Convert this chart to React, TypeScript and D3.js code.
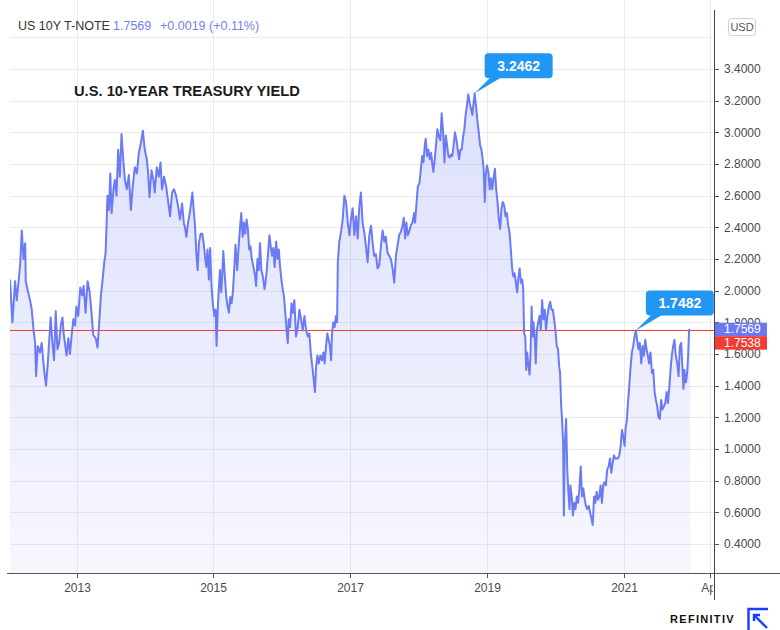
import * as d3 from 'd3';

// US 10Y T-Note yield
const yieldHistory: [string, number][] = [
  ['2012-01-12', 2.07], ['2012-01-25', 1.80], ['2012-02-08', 2.06], ['2012-02-17', 1.94], ['2012-02-26', 2.05],
  ['2012-03-06', 2.16], ['2012-03-15', 2.38], ['2012-03-24', 2.20], ['2012-04-02', 2.30], ['2012-04-05', 2.06],
  ['2012-04-16', 2.00], ['2012-04-28', 1.94], ['2012-05-07', 1.88], ['2012-05-16', 1.76], ['2012-05-25', 1.67],
  ['2012-05-30', 1.46], ['2012-06-08', 1.65], ['2012-06-20', 1.61], ['2012-06-29', 1.67], ['2012-07-08', 1.55],
  ['2012-07-13', 1.49], ['2012-07-22', 1.40], ['2012-07-31', 1.53], ['2012-08-09', 1.70], ['2012-08-16', 1.83],
  ['2012-08-25', 1.67], ['2012-09-03', 1.56], ['2012-09-12', 1.87], ['2012-09-21', 1.63], ['2012-09-30', 1.67],
  ['2012-10-09', 1.78], ['2012-10-18', 1.83], ['2012-10-25', 1.72], ['2012-10-31', 1.67], ['2012-11-09', 1.59],
  ['2012-11-18', 1.70], ['2012-11-27', 1.60], ['2012-12-06', 1.72], ['2012-12-15', 1.82], ['2012-12-24', 1.78],
  ['2012-12-31', 1.90],
  ['2013-01-10', 1.84], ['2013-01-21', 2.02], ['2013-02-01', 1.97], ['2013-02-08', 2.03], ['2013-02-18', 1.86],
  ['2013-03-01', 2.06], ['2013-03-12', 1.99], ['2013-03-22', 1.86], ['2013-03-31', 1.72], ['2013-04-13', 1.70],
  ['2013-04-23', 1.64], ['2013-05-02', 1.80], ['2013-05-11', 1.97], ['2013-05-20', 2.07], ['2013-05-29', 2.18],
  ['2013-06-05', 2.24], ['2013-06-10', 2.41], ['2013-06-15', 2.60], ['2013-06-23', 2.51], ['2013-06-30', 2.74],
  ['2013-07-07', 2.49], ['2013-07-17', 2.64], ['2013-07-24', 2.70], ['2013-08-02', 2.60], ['2013-08-11', 2.89],
  ['2013-08-20', 2.72], ['2013-08-29', 2.99], ['2013-09-07', 2.83], ['2013-09-16', 2.70], ['2013-09-26', 2.64],
  ['2013-10-07', 2.73], ['2013-10-18', 2.51], ['2013-10-28', 2.66], ['2013-11-08', 2.78], ['2013-11-19', 2.74],
  ['2013-11-29', 2.87], ['2013-12-10', 2.93], ['2013-12-21', 3.01], ['2013-12-31', 2.89],
  ['2014-01-11', 2.83], ['2014-01-18', 2.74], ['2014-01-25', 2.59], ['2014-02-05', 2.76], ['2014-02-15', 2.70],
  ['2014-02-22', 2.62], ['2014-03-05', 2.78], ['2014-03-16', 2.72], ['2014-03-25', 2.81], ['2014-04-02', 2.64],
  ['2014-04-13', 2.72], ['2014-04-24', 2.66], ['2014-05-04', 2.57], ['2014-05-15', 2.47], ['2014-05-26', 2.62],
  ['2014-06-05', 2.64], ['2014-06-16', 2.60], ['2014-06-27', 2.53], ['2014-07-07', 2.45], ['2014-07-18', 2.55],
  ['2014-07-28', 2.42], ['2014-08-01', 2.41], ['2014-08-10', 2.34], ['2014-08-19', 2.43], ['2014-08-28', 2.49],
  ['2014-09-06', 2.57], ['2014-09-11', 2.62], ['2014-09-18', 2.51], ['2014-09-25', 2.41], ['2014-10-02', 2.24],
  ['2014-10-09', 2.13], ['2014-10-16', 2.30], ['2014-10-25', 2.36], ['2014-11-03', 2.36], ['2014-11-10', 2.30],
  ['2014-11-17', 2.22], ['2014-11-24', 2.15], ['2014-12-01', 2.26], ['2014-12-08', 2.07], ['2014-12-15', 2.27],
  ['2014-12-22', 2.03], ['2014-12-29', 1.92],
  ['2015-01-06', 1.84], ['2015-01-13', 1.88], ['2015-01-18', 1.65], ['2015-01-25', 1.90], ['2015-01-31', 2.03],
  ['2015-02-05', 2.13], ['2015-02-12', 1.99], ['2015-02-17', 2.09], ['2015-02-23', 2.25], ['2015-03-02', 2.11],
  ['2015-03-11', 1.96], ['2015-03-18', 1.90], ['2015-03-25', 1.86], ['2015-04-01', 1.96], ['2015-04-08', 1.92],
  ['2015-04-15', 1.99], ['2015-04-24', 2.17], ['2015-04-29', 2.29], ['2015-05-08', 2.13], ['2015-05-17', 2.30],
  ['2015-05-24', 2.41], ['2015-05-30', 2.49], ['2015-06-06', 2.34], ['2015-06-13', 2.43], ['2015-06-20', 2.36],
  ['2015-06-27', 2.45], ['2015-07-04', 2.39], ['2015-07-11', 2.26], ['2015-07-18', 2.28], ['2015-07-25', 2.20],
  ['2015-08-03', 2.15], ['2015-08-12', 2.09], ['2015-08-17', 2.03], ['2015-08-24', 2.20], ['2015-08-31', 2.13],
  ['2015-09-07', 2.30], ['2015-09-14', 2.13], ['2015-09-22', 2.09], ['2015-10-01', 2.01], ['2015-10-06', 2.05],
  ['2015-10-13', 2.13], ['2015-10-20', 2.24], ['2015-10-27', 2.35], ['2015-11-03', 2.28], ['2015-11-10', 2.22],
  ['2015-11-17', 2.27], ['2015-11-24', 2.15], ['2015-12-02', 2.31], ['2015-12-09', 2.20], ['2015-12-16', 2.26],
  ['2015-12-23', 2.15], ['2015-12-30', 2.07],
  ['2016-01-06', 2.01], ['2016-01-13', 1.96], ['2016-01-21', 1.84], ['2016-01-28', 1.73], ['2016-02-02', 1.67],
  ['2016-02-07', 1.82], ['2016-02-14', 1.77], ['2016-02-22', 1.92], ['2016-02-29', 1.86], ['2016-03-08', 1.94],
  ['2016-03-17', 1.71], ['2016-03-26', 1.77], ['2016-04-04', 1.88], ['2016-04-13', 1.82], ['2016-04-22', 1.75],
  ['2016-05-01', 1.84], ['2016-05-10', 1.75], ['2016-05-19', 1.71], ['2016-05-27', 1.73], ['2016-06-05', 1.59],
  ['2016-06-14', 1.50], ['2016-06-19', 1.44], ['2016-06-26', 1.36], ['2016-07-02', 1.52], ['2016-07-09', 1.59],
  ['2016-07-16', 1.54], ['2016-07-25', 1.59], ['2016-08-03', 1.56], ['2016-08-10', 1.61], ['2016-08-17', 1.54],
  ['2016-08-24', 1.65], ['2016-08-31', 1.73], ['2016-09-07', 1.69], ['2016-09-14', 1.65], ['2016-09-20', 1.56],
  ['2016-09-25', 1.73], ['2016-10-02', 1.80], ['2016-10-09', 1.77], ['2016-10-16', 1.84], ['2016-10-22', 1.80],
  ['2016-10-26', 2.18], ['2016-11-03', 2.31], ['2016-11-12', 2.37], ['2016-11-21', 2.45], ['2016-11-30', 2.60],
  ['2016-12-09', 2.56], ['2016-12-18', 2.43], ['2016-12-27', 2.35],
  ['2017-01-04', 2.45], ['2017-01-13', 2.52], ['2017-01-22', 2.35], ['2017-01-31', 2.47], ['2017-02-09', 2.33],
  ['2017-02-17', 2.52], ['2017-02-26', 2.62], ['2017-03-07', 2.43], ['2017-03-16', 2.37], ['2017-03-25', 2.28],
  ['2017-04-03', 2.18], ['2017-04-12', 2.35], ['2017-04-21', 2.41], ['2017-04-29', 2.31], ['2017-05-08', 2.22],
  ['2017-05-17', 2.23], ['2017-05-26', 2.14], ['2017-06-04', 2.16], ['2017-06-13', 2.28], ['2017-06-22', 2.38],
  ['2017-07-01', 2.31], ['2017-07-09', 2.34], ['2017-07-18', 2.24], ['2017-07-27', 2.22], ['2017-08-05', 2.20],
  ['2017-08-14', 2.14], ['2017-08-23', 2.05], ['2017-09-01', 2.22], ['2017-09-09', 2.28], ['2017-09-18', 2.35],
  ['2017-09-27', 2.37], ['2017-10-06', 2.41], ['2017-10-13', 2.46], ['2017-10-20', 2.33], ['2017-10-27', 2.43],
  ['2017-11-03', 2.35], ['2017-11-10', 2.37], ['2017-11-19', 2.41], ['2017-11-28', 2.43], ['2017-12-07', 2.49],
  ['2017-12-12', 2.43], ['2017-12-19', 2.54], ['2017-12-27', 2.66],
  ['2018-01-05', 2.68], ['2018-01-12', 2.77], ['2018-01-19', 2.85], ['2018-01-26', 2.81], ['2018-02-02', 2.92],
  ['2018-02-07', 2.96], ['2018-02-14', 2.85], ['2018-02-21', 2.89], ['2018-03-01', 2.83], ['2018-03-08', 2.87],
  ['2018-03-15', 2.79], ['2018-03-20', 2.75], ['2018-03-27', 2.83], ['2018-04-03', 2.92], ['2018-04-10', 3.02],
  ['2018-04-17', 2.98], ['2018-04-26', 2.95], ['2018-05-03', 3.12], ['2018-05-11', 3.00], ['2018-05-18', 2.81],
  ['2018-05-25', 2.98], ['2018-06-01', 2.92], ['2018-06-08', 2.85], ['2018-06-15', 2.84], ['2018-06-22', 2.86],
  ['2018-06-29', 2.85], ['2018-07-06', 2.92], ['2018-07-13', 3.00], ['2018-07-20', 2.96], ['2018-07-28', 2.89],
  ['2018-08-04', 2.83], ['2018-08-11', 2.89], ['2018-08-18', 2.89], ['2018-08-25', 2.97], ['2018-09-01', 3.02],
  ['2018-09-08', 3.11], ['2018-09-15', 3.17], ['2018-09-22', 3.24], ['2018-09-29', 3.19], ['2018-10-06', 3.15],
  ['2018-10-14', 3.11], ['2018-10-19', 3.17], ['2018-10-26', 3.2462], ['2018-11-02', 3.17], ['2018-11-09', 3.08],
  ['2018-11-17', 3.00], ['2018-11-24', 2.92], ['2018-12-01', 2.89], ['2018-12-08', 2.83], ['2018-12-13', 2.77],
  ['2018-12-19', 2.56], ['2018-12-24', 2.73], ['2018-12-31', 2.79],
  ['2019-01-07', 2.75], ['2019-01-14', 2.64], ['2019-01-21', 2.71], ['2019-01-28', 2.64], ['2019-02-04', 2.71],
  ['2019-02-11', 2.77], ['2019-02-18', 2.64], ['2019-02-25', 2.56], ['2019-03-04', 2.45], ['2019-03-11', 2.39],
  ['2019-03-18', 2.52], ['2019-03-25', 2.56], ['2019-04-01', 2.54], ['2019-04-09', 2.47], ['2019-04-16', 2.49],
  ['2019-04-23', 2.41], ['2019-04-30', 2.37], ['2019-05-07', 2.26], ['2019-05-14', 2.14], ['2019-05-20', 2.09],
  ['2019-05-27', 2.11], ['2019-06-03', 2.05], ['2019-06-10', 1.99], ['2019-06-15', 2.07], ['2019-06-23', 2.14],
  ['2019-06-30', 2.05], ['2019-07-07', 2.07], ['2019-07-12', 2.01], ['2019-07-17', 1.73], ['2019-07-23', 1.71],
  ['2019-07-28', 1.50], ['2019-08-02', 1.61], ['2019-08-08', 1.54], ['2019-08-15', 1.47], ['2019-08-20', 1.59],
  ['2019-08-26', 1.90], ['2019-08-31', 1.71], ['2019-09-05', 1.80], ['2019-09-12', 1.69], ['2019-09-17', 1.54],
  ['2019-09-23', 1.75], ['2019-09-30', 1.80], ['2019-10-07', 1.84], ['2019-10-14', 1.75], ['2019-10-21', 1.94],
  ['2019-10-28', 1.82], ['2019-11-04', 1.88], ['2019-11-11', 1.75], ['2019-11-18', 1.84], ['2019-11-26', 1.90],
  ['2019-12-03', 1.93], ['2019-12-10', 1.88], ['2019-12-17', 1.88], ['2019-12-24', 1.82], ['2019-12-31', 1.75],
  ['2020-01-07', 1.65], ['2020-01-14', 1.63], ['2020-01-20', 1.52], ['2020-01-25', 1.48], ['2020-01-30', 1.29],
  ['2020-02-05', 1.17], ['2020-02-10', 1.04], ['2020-02-14', 0.58], ['2020-02-19', 1.02], ['2020-02-26', 1.19],
  ['2020-03-03', 0.87], ['2020-03-08', 0.75], ['2020-03-15', 0.62], ['2020-03-20', 0.77], ['2020-03-27', 0.70],
  ['2020-04-02', 0.58], ['2020-04-09', 0.66], ['2020-04-16', 0.62], ['2020-04-23', 0.70], ['2020-04-30', 0.66],
  ['2020-05-07', 0.75], ['2020-05-14', 0.89], ['2020-05-21', 0.70], ['2020-05-28', 0.75], ['2020-06-04', 0.68],
  ['2020-06-11', 0.64], ['2020-06-18', 0.62], ['2020-06-26', 0.64], ['2020-07-03', 0.60], ['2020-07-10', 0.56],
  ['2020-07-17', 0.52], ['2020-07-24', 0.70], ['2020-07-31', 0.66], ['2020-08-07', 0.73], ['2020-08-14', 0.68],
  ['2020-08-21', 0.70], ['2020-08-28', 0.77], ['2020-09-04', 0.66], ['2020-09-11', 0.77], ['2020-09-18', 0.79],
  ['2020-09-25', 0.77], ['2020-10-02', 0.87], ['2020-10-10', 0.89], ['2020-10-17', 0.94], ['2020-10-24', 0.85],
  ['2020-10-31', 0.91], ['2020-11-07', 0.96], ['2020-11-14', 0.94], ['2020-11-21', 0.94], ['2020-11-28', 0.94],
  ['2020-12-06', 0.96], ['2020-12-13', 1.02], ['2020-12-20', 1.12], ['2020-12-27', 1.08],
  ['2021-01-03', 1.02], ['2021-01-09', 1.14], ['2021-01-14', 1.17], ['2021-01-21', 1.29], ['2021-01-28', 1.40],
  ['2021-02-04', 1.52], ['2021-02-11', 1.61], ['2021-02-18', 1.65], ['2021-02-25', 1.71], ['2021-03-04', 1.7482],
  ['2021-03-11', 1.69], ['2021-03-18', 1.63], ['2021-03-25', 1.67], ['2021-04-02', 1.54], ['2021-04-09', 1.65],
  ['2021-04-16', 1.59], ['2021-04-23', 1.69], ['2021-04-30', 1.63], ['2021-05-07', 1.59], ['2021-05-14', 1.54],
  ['2021-05-21', 1.61], ['2021-05-29', 1.48], ['2021-06-05', 1.50], ['2021-06-12', 1.36], ['2021-06-19', 1.31],
  ['2021-06-26', 1.27], ['2021-07-03', 1.20], ['2021-07-10', 1.19], ['2021-07-17', 1.31], ['2021-07-24', 1.25],
  ['2021-08-01', 1.27], ['2021-08-08', 1.29], ['2021-08-15', 1.36], ['2021-08-22', 1.29], ['2021-08-29', 1.38],
  ['2021-09-05', 1.50], ['2021-09-12', 1.59], ['2021-09-19', 1.65], ['2021-09-26', 1.69], ['2021-10-03', 1.59],
  ['2021-10-11', 1.54], ['2021-10-18', 1.46], ['2021-10-25', 1.65], ['2021-11-01', 1.67], ['2021-11-08', 1.50],
  ['2021-11-13', 1.38], ['2021-11-18', 1.50], ['2021-11-26', 1.42], ['2021-12-03', 1.48], ['2021-12-08', 1.59],
  ['2021-12-13', 1.75], ['2021-12-19', 1.7569],
];

const priceTicks = [0.4, 0.6, 0.8, 1.0, 1.2, 1.4, 1.6, 1.8, 2.0, 2.2, 2.4, 2.6, 2.8, 3.0, 3.2, 3.4];
const gridLevels = [...priceTicks, 3.6];
const timeTickDates = ['2013-01-01', '2015-01-01', '2017-01-01', '2019-01-01', '2021-01-01', '2022-04-01'];
const timeTickLabels = ['2013', '2015', '2017', '2019', '2021', 'Apr'];
const calloutDates = ['2018-10-26', '2021-03-04'];
const calloutValues = [3.2462, 1.7482];

const symbol = 'US 10Y T-NOTE';
const lastPrice = 1.7569;
const change = '+0.0019';
const changePct = '(+0.11%)';
const refPrice = 1.7538;

const FONT = '"Liberation Sans", Arial, sans-serif';
const LINE = '#6b7af5';
const RED = '#f23b33';

interface Point { date: Date; value: number }

const parse = d3.timeParse('%Y-%m-%d');

const App = () => {
  const width = 780, height = 630;
  const left = 10, right = 714, bottom = 573;

  const data: Point[] = yieldHistory.map(([d, v]) => ({ date: parse(d)!, value: v }));

  const x = d3.scaleTime()
    .domain([parse('2012-01-12')!, parse('2022-04-25')!])
    .range([left, right]);
  const y = d3.scaleLinear().domain([0.4, 3.4]).range([544, 69]);

  const line = d3.line<Point>().x(d => x(d.date)).y(d => y(d.value));
  const area = d3.area<Point>().x(d => x(d.date)).y0(bottom).y1(d => y(d.value));

  const fmt = d3.format('.4f');
  const lastY = y(lastPrice);
  const refY = Math.round(y(refPrice)) + 0.5;

  return (
    <svg width={width} height={height} style={{ position: 'absolute', left: 0, top: 0, background: '#fff' }}
      fontFamily={FONT}>
      <defs>
        <clipPath id="plot"><rect x={left} y={0} width={right - left} height={bottom} /></clipPath>
        <clipPath id="timeaxis"><rect x={0} y={bottom} width={right - 1} height={40} /></clipPath>
        <linearGradient id="fill" gradientUnits="userSpaceOnUse" x1={0} y1={y(3.25)} x2={0} y2={bottom}>
          <stop offset="0" stopColor={LINE} stopOpacity={0.23} />
          <stop offset="1" stopColor={LINE} stopOpacity={0.06} />
        </linearGradient>
      </defs>

      {/* grid */}
      <g stroke="#ebebeb" strokeWidth={1}>
        {gridLevels.map(v => (
          <line key={v} x1={left} x2={right} y1={Math.round(y(v)) + 0.5} y2={Math.round(y(v)) + 0.5} />
        ))}
        {timeTickDates.map(d => {
          const xx = Math.round(x(parse(d)!)) + 0.5;
          return <line key={d} x1={xx} x2={xx} y1={0} y2={bottom} />;
        })}
      </g>

      {/* series */}
      <g clipPath="url(#plot)">
        <path d={area(data) ?? ''} fill="url(#fill)" />
        <line x1={left} x2={right} y1={refY} y2={refY} stroke={RED} strokeWidth={1} />
        <path d={line(data) ?? ''} fill="none" stroke={LINE} strokeWidth={2} strokeLinejoin="round" />
      </g>

      {/* callouts */}
      {calloutDates.map((d, i) => {
        const ax = x(parse(d)!), ay = y(calloutValues[i]);
        const bx = ax + 10, bw = 68, bh = 25, by = ay - 15 - bh;
        return (
          <g key={d}>
            <polygon points={`${ax},${ay} ${bx + 6},${by + bh - 1} ${bx + 17},${by + bh - 1}`} fill="#2196f3" />
            <rect x={bx} y={by} width={bw} height={bh} rx={4} fill="#2196f3" />
            <text x={bx + bw / 2} y={by + bh / 2} dy="0.36em" textAnchor="middle" fill="#fff"
              fontSize={14} fontWeight="bold">{fmt(calloutValues[i])}</text>
          </g>
        );
      })}

      {/* axes */}
      <line x1={7} x2={width} y1={bottom + 0.5} y2={bottom + 0.5} stroke="#555" />
      <line x1={right + 0.5} x2={right + 0.5} y1={10} y2={600} stroke="#444" />

      <g fontSize={12} fill="#4a4a4a">
        {priceTicks.map(v => (
          <g key={v}>
            <line x1={right} x2={right + 5} y1={Math.round(y(v)) + 0.5} y2={Math.round(y(v)) + 0.5} stroke="#555" />
            <text x={724} y={y(v)} dy="0.35em">{fmt(v)}</text>
          </g>
        ))}
      </g>

      <g fontSize={12} fill="#4a4a4a" clipPath="url(#timeaxis)">
        {timeTickDates.map((d, i) => {
          const xx = Math.round(x(parse(d)!)) + 0.5;
          return (
            <g key={d}>
              <line x1={xx} x2={xx} y1={bottom} y2={bottom + 5} stroke="#555" />
              <text x={xx} y={588} dy="0.35em" textAnchor="middle">{timeTickLabels[i]}</text>
            </g>
          );
        })}
      </g>

      {/* price labels (they cover the 1.8 / 1.6 tick labels, as in the original) */}
      <rect x={right + 1} y={lastY - 6.5} width={52} height={13.5} fill="#6a78f2" />
      <text x={724} y={lastY} dy="0.35em" fontSize={12} fill="#fff">{fmt(lastPrice)}</text>
      <rect x={right + 1} y={lastY + 7} width={52} height={13.5} fill={RED} />
      <text x={724} y={lastY + 13.7} dy="0.35em" fontSize={12} fill="#fff">{fmt(refPrice)}</text>

      {/* header */}
      <text x={18} y={30} fontSize={12.5}>
        <tspan fill="#333">{symbol}</tspan>
        <tspan x={113} fill="#7280f0">{fmt(lastPrice)}</tspan>
        <tspan x={160} fill="#7280f0">{change}</tspan>
        <tspan x={209} fill="#7280f0">{changePct}</tspan>
      </text>
      <rect x={728.5} y={18.5} width={27} height={17} rx={3} fill="#fff" stroke="#d0d0d0" />
      <text x={742} y={27} dy="0.35em" textAnchor="middle" fontSize={11} fill="#555">USD</text>

      <text x={74} y={96} fontSize={14.7} fontWeight="bold" fill="#1b1b1b">U.S. 10-YEAR TREASURY YIELD</text>

      {/* logo */}
      <text x={670} y={623} fontSize={11} fontWeight="bold" fill="#111" letterSpacing={1.3}>REFINITIV</text>
      <g stroke="#1a3cff" strokeWidth={2.4} fill="none">
        <path d="M748.5,630 V609 H768" />
        <path d="M754,615 L767,628" />
        <path d="M754,621 V615 H760" />
      </g>
    </svg>
  );
};

export default App;
